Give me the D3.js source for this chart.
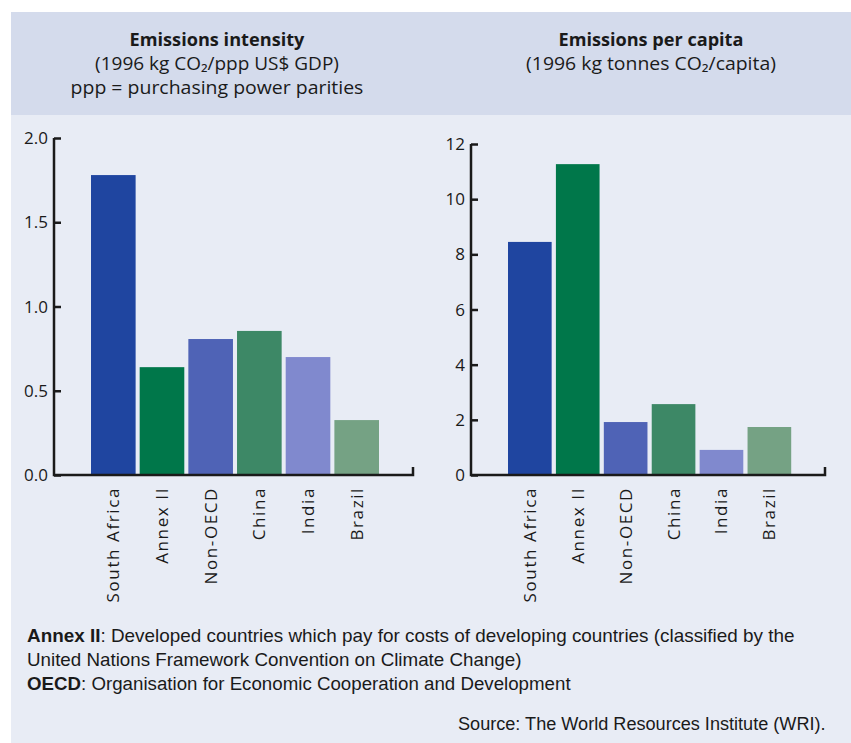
<!DOCTYPE html>
<html>
<head>
<meta charset="utf-8">
<script src="https://cdn.jsdelivr.net/npm/d3@7"></script>
<style>
  body { margin: 0; background: #fff; }
  svg { display: block; }
</style>
</head>
<body>
<svg id="svg"></svg>
<script>
const categories = ["South Africa", "Annex II", "Non-OECD", "China", "India", "Brazil"];
const intensityValues = [1.78, 0.64, 0.807, 0.855, 0.70, 0.326];
const perCapitaValues = [8.45, 11.27, 1.92, 2.57, 0.91, 1.74];
const intensityTicks = [0, 0.5, 1.0, 1.5, 2.0];
const perCapitaTicks = [0, 2, 4, 6, 8, 10, 12];
const barColors = ["#1f45a0", "#00774a", "#4f63b6", "#3d8866", "#8089ce", "#75a284"];

const width = 851, height = 743;
const font = "'Open Sans', 'DejaVu Sans', sans-serif";
const narrow = "'Liberation Sans Narrow', 'Liberation Sans', sans-serif";

const svg = d3.select("#svg").attr("width", width).attr("height", height);

// background panels
svg.append("rect").attr("x", 11).attr("y", 12).attr("width", width - 11).attr("height", height - 12).attr("fill", "#e8ecf5");
svg.append("rect").attr("x", 11).attr("y", 12).attr("width", width - 11).attr("height", 103).attr("fill", "#d4dbec");

// fit a text element horizontally to a target width
function fit(t, x, target) {
  const w = t.node().getComputedTextLength();
  t.attr("transform", `translate(${x},0) scale(${target / w},1) translate(${-x},0)`);
}

// titles
function title(cx, lines, widths) {
  lines.forEach((l, i) => {
    const t = svg.append("text").attr("text-anchor", "middle").attr("font-family", font)
      .attr("font-size", 17.5).attr("fill", "#1a1a1a")
      .attr("x", cx).attr("y", 46 + i * 24)
      .attr("font-weight", i === 0 ? "bold" : "normal").text(l);
    fit(t, cx, widths[i]);
  });
}
title(217, ["Emissions intensity", "(1996 kg CO\u2082/ppp US$ GDP)", "ppp = purchasing power parities"], [175, 244, 293]);
title(651, ["Emissions per capita", "(1996 kg tonnes CO\u2082/capita)"], [185, 250]);

function chart(opts) {
  const { x0, x1, yTop, values, ticks, max, fmt, barStart, step, barW } = opts;
  const yBase = 475;
  const y = d3.scaleLinear().domain([0, max]).range([yBase, yTop]);
  const x = d3.scaleBand().domain(categories)
    .range([barStart, barStart + step * categories.length]).paddingInner((step - barW) / step).paddingOuter(0);

  const g = svg.append("g");
  g.selectAll("rect.bar").data(categories).join("rect")
    .attr("class", "bar")
    .attr("x", d => x(d))
    .attr("width", x.bandwidth())
    .attr("y", (d, i) => y(values[i]))
    .attr("height", (d, i) => yBase - y(values[i]))
    .attr("fill", (d, i) => barColors[i]);

  const yAxis = g.append("g").attr("transform", `translate(${x0},0)`)
    .call(d3.axisLeft(y).tickValues(ticks).tickFormat(fmt).tickSize(7).tickPadding(4));
  yAxis.select(".domain").remove();
  yAxis.selectAll(".tick line").attr("stroke", "#1a1a1a").attr("stroke-width", 2.5).attr("x2", 7);
  yAxis.selectAll(".tick text").attr("font-family", font).attr("font-size", 17).attr("fill", "#1a1a1a")
    .attr("x", -6).attr("dy", "0.33em");

  g.append("path")
    .attr("d", `M${x0},${yTop}V${yBase}H${x1}V${yBase - 8}`)
    .attr("fill", "none").attr("stroke", "#1a1a1a").attr("stroke-width", 2.5);

  g.selectAll("text.cat").data(categories).join("text")
    .attr("class", "cat")
    .attr("transform", d => `translate(${x(d) + x.bandwidth() / 2 + 6},487) rotate(-90)`)
    .attr("text-anchor", "end")
    .attr("font-family", font).attr("font-size", 17).attr("letter-spacing", 1.6)
    .attr("fill", "#1a1a1a")
    .text(d => d);
}

chart({ x0: 54, x1: 413, yTop: 138, values: intensityValues, ticks: intensityTicks, max: 2,
  fmt: d3.format(".1f"), barStart: 91, step: 48, barW: 44 });
chart({ x0: 471, x1: 825, yTop: 144, values: perCapitaValues, ticks: perCapitaTicks, max: 12,
  fmt: d3.format("d"), barStart: 508, step: 47.2, barW: 43 });

// footnotes
const notes = [
  [["Annex II", true], [": Developed countries which pay for costs of developing countries (classified by the", false]],
  [["United Nations Framework Convention on Climate Change)", false]],
  [["OECD", true], [": Organisation for Economic Cooperation and Development", false]]
];
const noteWidths = [768, 495, 544];
notes.forEach((parts, i) => {
  const t = svg.append("text").attr("x", 27).attr("y", 642 + i * 24)
    .attr("font-family", narrow).attr("font-size", 19).attr("fill", "#1a1a1a");
  parts.forEach(([s, b]) => t.append("tspan").attr("font-weight", b ? "bold" : "normal").text(s));
  fit(t, 27, noteWidths[i]);
});
const src = svg.append("text").attr("x", 458).attr("y", 730)
  .attr("font-family", narrow).attr("font-size", 19).attr("fill", "#1a1a1a")
  .text("Source: The World Resources Institute (WRI).");
fit(src, 458, 368);
</script>
</body>
</html>
